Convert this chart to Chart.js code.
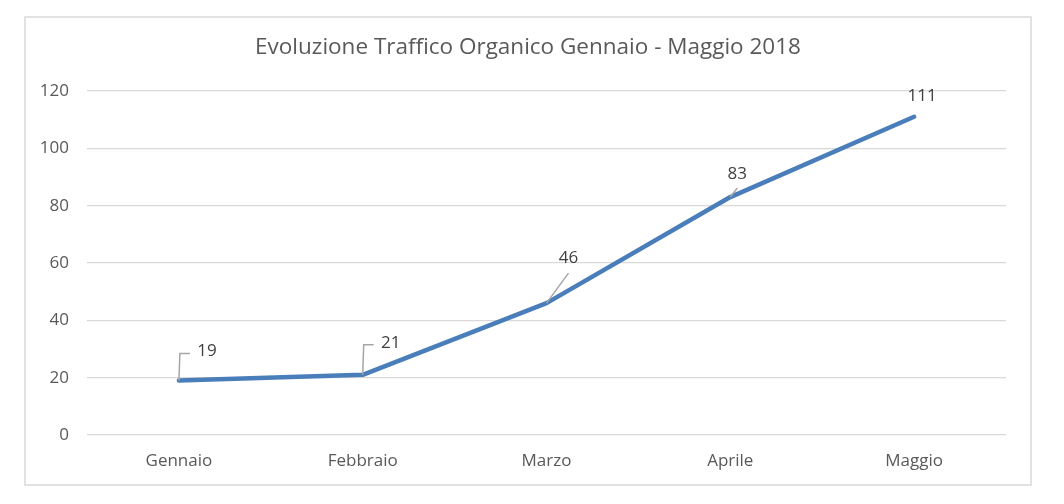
<!DOCTYPE html>
<html>
<head>
<meta charset="utf-8">
<script src="https://cdn.jsdelivr.net/npm/chart.js@4.4.1/dist/chart.umd.min.js"></script>
<style>
  html, body { margin: 0; padding: 0; background: #fff; }
  #wrap { width: 1064px; height: 504px; position: relative; }
</style>
</head>
<body>
<div id="wrap"><canvas id="trafficChart"></canvas></div>
<script>
// data
const months = ['Gennaio', 'Febbraio', 'Marzo', 'Aprile', 'Maggio'];
const visits = [19, 21, 46, 83, 111];
const yTicks = [0, 20, 40, 60, 80, 100, 120];
const chartTitle = 'Evoluzione Traffico Organico Gennaio - Maggio 2018';

// label callout placement (px offsets from the point), excel style
const calloutOffsets = [
    { dx: 28, dy: -29, leader: 'elbow' },
    { dx: 28, dy: -32, leader: 'elbow' },
    { dx: 22, dy: -45, leader: 'diag' },
    { dx: 7, dy: -23, leader: 'diag' },
    { dx: 8, dy: -21, leader: null }
];

const FONT = "'Open Sans', sans-serif";
const TEXT = '#595959';

const frameTitle = {
    id: 'frameTitle',
    beforeDraw(chart) {
        const ctx = chart.ctx;
        ctx.save();
        ctx.fillStyle = '#fff';
        ctx.fillRect(0, 0, chart.width, chart.height);
        ctx.strokeStyle = '#d9d9d9';
        ctx.lineWidth = 1.5;
        ctx.strokeRect(25, 17, 1006, 468);
        ctx.fillStyle = TEXT;
        ctx.font = '22.5px ' + FONT;
        ctx.textAlign = 'center';
        ctx.textBaseline = 'middle';
        ctx.fillText(chartTitle, 528, 48);
        ctx.restore();
    }
};

const callouts = {
    id: 'callouts',
    afterDatasetsDraw(chart) {
        const ctx = chart.ctx;
        const pts = chart.getDatasetMeta(0).data;
        ctx.save();
        ctx.font = '17px ' + FONT;
        ctx.fillStyle = '#404040';
        ctx.textAlign = 'center';
        ctx.textBaseline = 'middle';
        pts.forEach((p, i) => {
            const o = calloutOffsets[i];
            const tx = p.x + o.dx, ty = p.y + o.dy;
            ctx.strokeStyle = '#a6a6a6';
            ctx.lineWidth = 1.5;
            if (o.leader === 'elbow') {
                ctx.beginPath();
                ctx.moveTo(p.x, p.y);
                ctx.lineTo(p.x + 1, ty + 2);
                ctx.lineTo(p.x + 11, ty + 2);
                ctx.stroke();
            } else if (o.leader === 'diag') {
                ctx.beginPath();
                ctx.moveTo(p.x, p.y);
                ctx.lineTo(p.x + o.dx, ty + (o.dy < -30 ? 15 : 14));
                ctx.stroke();
            }
            ctx.fillText(String(visits[i]), tx, ty);
        });
        ctx.restore();
    }
};

new Chart(document.getElementById('trafficChart').getContext('2d'), {
    type: 'line',
    data: {
        labels: months,
        datasets: [{
            data: visits,
            borderColor: '#4a7ebb',
            borderWidth: 4.5,
            borderCapStyle: 'round',
            borderJoinStyle: 'round',
            tension: 0,
            pointRadius: 0,
            fill: false
        }]
    },
    options: {
        responsive: true,
        maintainAspectRatio: false,
        animation: false,
        layout: { padding: { left: 25, right: 58, top: 91, bottom: 19 } },
        plugins: {
            legend: { display: false },
            tooltip: { enabled: false }
        },
        scales: {
            x: {
                offset: true,
                grid: { display: false, drawTicks: false },
                border: { display: false },
                ticks: { color: TEXT, font: { family: FONT, size: 17 }, padding: 16, maxRotation: 0 },
                afterFit(scale) { scale.height = 50; }
            },
            y: {
                min: 0,
                max: 120,
                afterBuildTicks(scale) { scale.ticks = yTicks.map(v => ({ value: v })); },
                grid: { color: '#d9d9d9', lineWidth: 1.3, drawTicks: false },
                border: { display: false },
                ticks: { color: TEXT, font: { family: FONT, size: 17 }, padding: 18 },
                afterFit(scale) { scale.width = 62; }
            }
        }
    },
    plugins: [frameTitle, callouts]
});
</script>
</body>
</html>
